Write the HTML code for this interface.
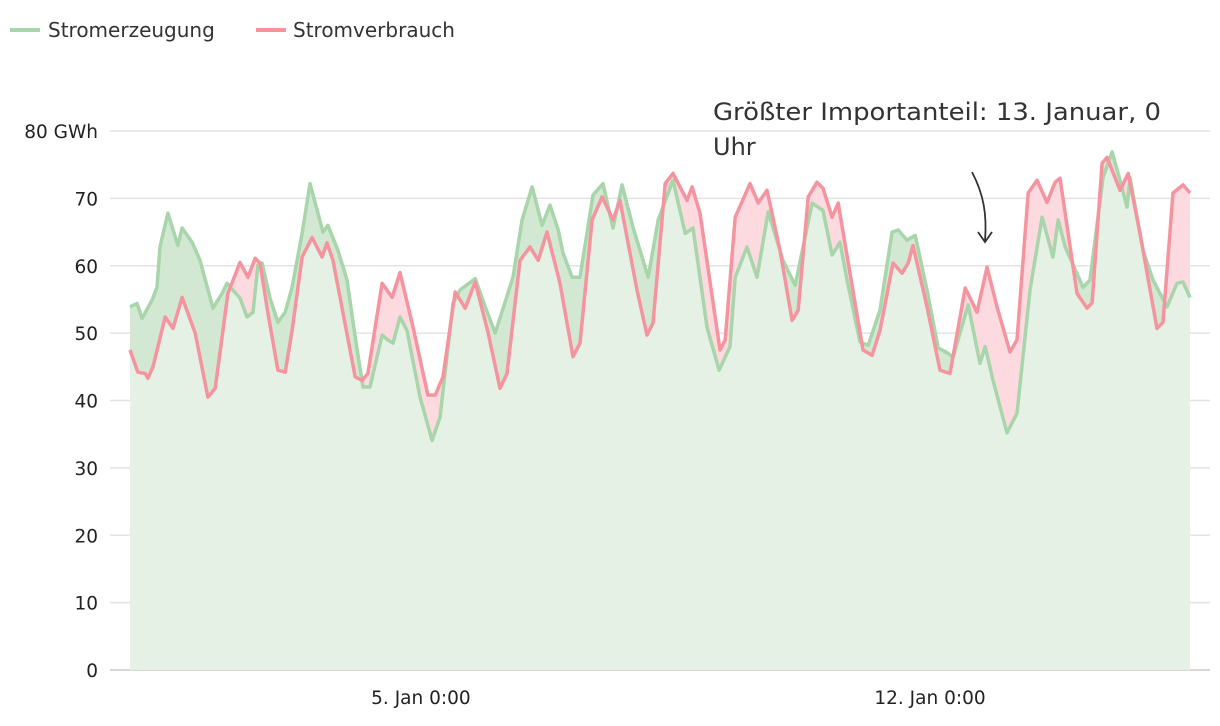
<!DOCTYPE html>
<html><head><meta charset="utf-8"><style>
html,body{margin:0;padding:0;background:#fff;}
svg{display:block;font-family:"DejaVu Sans","Liberation Sans",sans-serif;}
</style></head><body>
<svg id="chart" width="1220" height="726" viewBox="0 0 1220 726">
  <g>
    <g>
      <line x1="10" y1="30" x2="40" y2="30" stroke="#a8d5aa" stroke-width="4"/>
      <text x="48" y="37" font-size="20" fill="#333">Stromerzeugung</text>
    </g>
    <g>
      <line x1="256" y1="30" x2="286" y2="30" stroke="#f5949f" stroke-width="4"/>
      <text x="293" y="37" font-size="20" fill="#333">Stromverbrauch</text>
    </g>
  </g>
  <g id="grid"></g>
  <g id="yaxis"></g>
  <g id="xaxis"></g>
  <defs><clipPath id="useClip"><path id="useClipPath"/></clipPath></defs>
  <g id="areas"></g>
  <g id="lines"></g>
  <g>
    <text x="713" y="120" font-size="24" fill="#333" textLength="448" lengthAdjust="spacingAndGlyphs">Größter Importanteil: 13. Januar, 0</text>
    <text x="713" y="155" font-size="24" fill="#333">Uhr</text>
    <path d="M972,172 C984,195 987,215 985,241" fill="none" stroke="#333" stroke-width="1.8"/>
    <path d="M978,232 L985,242 L992,232" fill="none" stroke="#333" stroke-width="1.8"/>
  </g>
</svg>
<script>
const genHours=[0,2.3,4,7.3,8.9,9.9,12.5,15.8,17.2,20.5,23.1,27.4,30.4,32,36.3,38.6,40.6,42.2,43.6,46.2,48.8,51.2,53.5,56.8,59.4,63.7,65.3,68.6,71.6,74.3,76.9,79.2,83.2,85.1,86.8,89.1,91.4,95.7,99.7,102.3,106.6,108.9,113.9,117.2,120.5,126.4,129.4,132.7,136,138.6,141.3,142.9,145.9,148.5,152.8,156.1,159.4,162.4,166,171,174.3,179.2,183.2,185.8,190.4,194.4,198,199.7,203.6,206.9,210.6,215.5,219.5,225.1,228.7,231.7,234.3,236.6,240.9,243.6,247.5,251.5,253.5,256.4,259.1,263,266.7,270,271.6,276.6,280.5,282.2,284.8,289.4,292.7,297,301,304.6,306.3,308.6,314.5,316.8,321.1,324.1,326.7,329,330,334.3,337.6,342.2,345.5,347.5,349.8];
const genValues=[53.9,54.4,52.2,54.9,56.8,62.8,67.8,63,65.6,63.5,60.8,53.7,55.9,57.4,55.2,52.4,53.1,60.1,60.4,55.2,51.6,53.1,56.8,64.8,72.2,65,66,62.3,57.9,49.4,42,42,49.7,49,48.5,52.4,50.4,40.5,34.1,37.5,54.4,56.4,58.1,53.9,50,58.3,66.8,71.7,66,69,65.3,61.9,58.3,58.3,70.5,72.2,65.6,72,65.7,58.3,66.8,72.7,64.8,65.6,50.9,44.5,48,58.3,62.8,58.3,68,60.8,57.1,69.3,68.2,61.6,63.5,57.9,48.7,48.2,53.4,65,65.3,63.8,64.5,56.4,47.8,47,46.4,54.2,45.5,48,43,35.2,38.1,56.4,67.2,61.3,66.8,62.8,56.8,57.9,73.1,76.9,72.7,68.7,73.1,62.3,57.9,53.9,57.4,57.6,55.3];
const useHours=[0,2.6,5,5.9,7.6,11.6,14.2,17.2,21.5,25.7,28.1,32.3,36.3,38.9,41.3,42.9,45.5,48.8,51.2,53.5,56.8,60.1,63.4,65,67,74.3,76.6,78.5,83.2,86.5,89.1,93.4,98.3,100.7,103.3,107.3,110.6,113.9,118.2,122.1,124.4,128.7,132,134.7,137.6,141.9,146.2,148.5,152.5,155.8,159.4,161.7,167.3,170.6,172.6,176.6,179.2,183.8,185.5,188.1,194.7,196.4,199.7,204.6,207.3,210.2,214.5,218.5,220.5,223.8,226.7,228.7,231.7,233.7,237.6,241.9,244.9,247.5,251.8,254.8,256.8,258.4,263,267.3,270.6,275.6,279.5,282.8,286.1,290.4,292.7,296.4,299.3,302.6,305.3,306.9,312.5,315.8,317.5,320.8,322.4,326.7,329.4,333.3,338.9,340.9,344.2,347.5,349.8];
const useValues=[47.5,44.2,44,43.3,45,52.4,50.7,55.3,50,40.5,41.8,55.9,60.5,58.3,61.1,60.4,53,44.5,44.2,50.4,61.3,64.2,61.3,63.4,60.8,43.5,43,44,57.4,55.3,59,50.9,40.8,40.8,43.5,56.1,53.7,57.6,50,41.8,44,60.8,62.8,60.8,65,57.4,46.5,48.5,66.8,70.2,66.8,69.7,56.4,49.7,51.5,72.2,73.7,69.7,71.7,67.8,47.5,49,67.2,72.2,69.3,71.2,62.3,51.9,53.4,70.2,72.4,71.5,67.2,69.3,58.9,47.5,46.7,50.4,60.4,58.9,60.4,63,53.9,44.5,44,56.7,53.1,59.8,53.9,47.2,49,70.8,72.7,69.4,72.4,73,55.9,53.7,54.5,75.2,76.1,71.2,73.7,64.8,50.7,51.6,70.8,72,70.8];
const yTicks=[0,10,20,30,40,50,60,70,80];
const yTickLabels=["0","10","20","30","40","50","60","70","80 GWh"];
const xTickHours=[96,264];
const xTickLabels=["5. Jan 0:00","12. Jan 0:00"];

const NS="http://www.w3.org/2000/svg";
const X0=130,X1=1190,H0=0,H1=349.8,Y0=670,Y80=131;
const xs=h=>X0+(h-H0)/(H1-H0)*(X1-X0);
const ys=v=>Y0-v/80*(Y0-Y80);
function mk(tag,attrs,parent){const e=document.createElementNS(NS,tag);for(const k in attrs)e.setAttribute(k,attrs[k]);parent.appendChild(e);return e;}
const grid=document.getElementById('grid'),yax=document.getElementById('yaxis'),xax=document.getElementById('xaxis');
yTicks.forEach((t,i)=>{
  const l=mk('line',{x1:110,x2:1210,y1:ys(t),y2:ys(t),stroke:t===0?'#d8d8d8':'#e3e3e3','stroke-width':t===0?2:1.5},grid);
  
  
  const tx=mk('text',{x:98,y:ys(t)+7,'text-anchor':'end','font-size':18.5,fill:'#222'},yax);
  tx.textContent=yTickLabels[i];
  
  
});
xTickHours.forEach((h,i)=>{
  const tx=mk('text',{x:xs(h),y:704,'text-anchor':'middle','font-size':18.5,fill:'#222'},xax);
  tx.textContent=xTickLabels[i];
  
  
});
function linePath(hs,vs){return hs.map((h,i)=>(i?'L':'M')+xs(h).toFixed(1)+','+ys(vs[i]).toFixed(1)).join('');}
function areaPath(hs,vs){return linePath(hs,vs)+'L'+xs(hs[hs.length-1]).toFixed(1)+','+Y0+'L'+xs(hs[0]).toFixed(1)+','+Y0+'Z';}
const areas=document.getElementById('areas'),lines=document.getElementById('lines');
const gA=areaPath(genHours,genValues),uA=areaPath(useHours,useValues);
document.getElementById('useClipPath').setAttribute('d',uA);
const a1=mk('path',{d:gA,fill:'#d2e8d2'},areas);


const a2=mk('path',{d:uA,fill:'#fddae0'},areas);


const a3=mk('path',{d:gA,fill:'#e4f1e4','clip-path':'url(#useClip)'},areas);


const l1=mk('path',{d:linePath(genHours,genValues),fill:'none',stroke:'#a8d5aa','stroke-width':3.5,'stroke-linejoin':'round'},lines);


const l2=mk('path',{d:linePath(useHours,useValues),fill:'none',stroke:'#f5949f','stroke-width':3.5,'stroke-linejoin':'round'},lines);


</script>
</body></html>
